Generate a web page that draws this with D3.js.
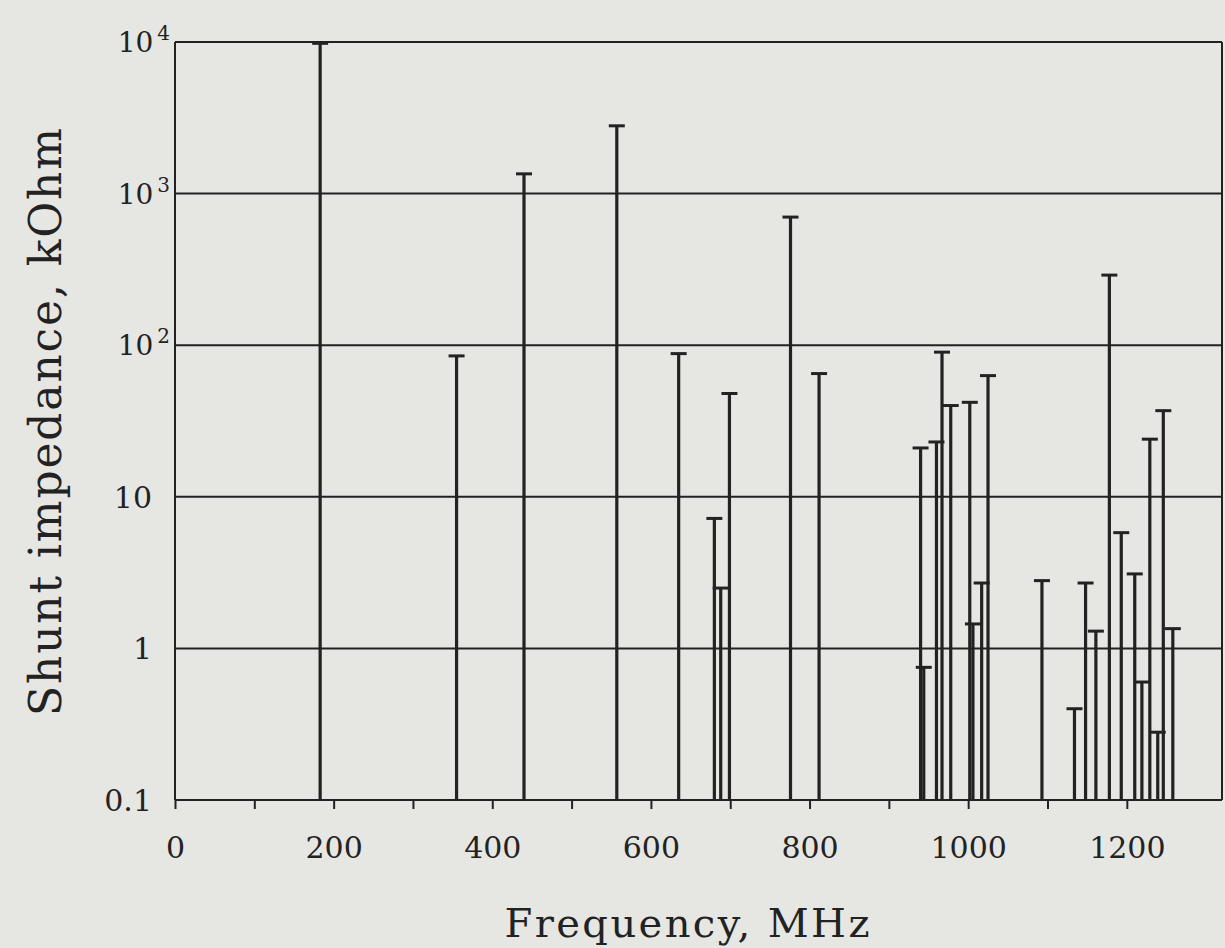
<!DOCTYPE html>
<html>
<head>
<meta charset="utf-8">
<script src="https://cdn.jsdelivr.net/npm/d3@7"></script>
<style>
  body { margin: 0; background: #e6e6e3; }
  svg { display: block; }
  text { font-family: "DejaVu Serif", "Liberation Serif", serif; fill: #222; }
</style>
</head>
<body>
<div id="chart"></div>
<script>
// Resonance frequencies (MHz) and shunt impedances (kOhm)
const freqs = [183, 355, 440, 557, 635, 680, 688, 699, 776, 812,
  940, 944, 960, 967, 978, 1002, 1006, 1017, 1025,
  1093, 1134, 1148, 1161, 1178, 1193, 1210, 1219, 1229, 1239, 1246, 1258];
const impedances = [9800, 85, 1350, 2800, 88, 7.2, 2.5, 48, 700, 65,
  21, 0.75, 23, 90, 40, 42, 1.45, 2.7, 63,
  2.8, 0.4, 2.7, 1.3, 290, 5.8, 3.1, 0.6, 24, 0.28, 37, 1.35];

// Axis ticks
const xTicks = [0, 100, 200, 300, 400, 500, 600, 700, 800, 900, 1000, 1100, 1200];
const xLabels = [0, 200, 400, 600, 800, 1000, 1200];
const yTicks = [0.1, 1, 10, 100, 1000, 10000];

const data = freqs.map((f, i) => ({ freq: f, z: impedances[i] }));

const W = 1225, H = 948;
const margin = { top: 42, right: 3, bottom: 148, left: 175 };
const width = W - margin.left - margin.right;
const height = H - margin.top - margin.bottom;

const svg = d3.select("#chart")
  .append("svg")
  .attr("width", W)
  .attr("height", H);

const g = svg.append("g")
  .attr("transform", `translate(${margin.left}, ${margin.top})`);

const xScale = d3.scaleLinear()
  .domain([0, 1320])
  .range([0, width]);

const yScale = d3.scaleLog()
  .domain([0.1, 10000])
  .range([height, 0]);

const ink = "#222";

// Horizontal gridlines at each decade
g.selectAll(".grid")
  .data(yTicks)
  .enter()
  .append("line")
  .attr("class", "grid")
  .attr("x1", 0)
  .attr("x2", width)
  .attr("y1", d => yScale(d))
  .attr("y2", d => yScale(d))
  .attr("stroke", ink)
  .attr("stroke-width", 2);

// Frame: left and right edges
g.append("line")
  .attr("x1", 0).attr("x2", 0)
  .attr("y1", 0).attr("y2", height)
  .attr("stroke", ink).attr("stroke-width", 2);
g.append("line")
  .attr("x1", width).attr("x2", width)
  .attr("y1", 0).attr("y2", height)
  .attr("stroke", ink).attr("stroke-width", 2);

// x-axis ticks pointing down
const xAxis = d3.axisBottom(xScale)
  .tickValues(xTicks)
  .tickSize(9)
  .tickFormat(d => xLabels.includes(d) ? d : "");

const xg = g.append("g")
  .attr("transform", `translate(0, ${height})`)
  .call(xAxis);
xg.select(".domain").remove();
xg.selectAll(".tick line").attr("stroke", ink).attr("stroke-width", 2);
xg.selectAll(".tick text")
  .attr("y", 37)
  .attr("font-size", 30)
  .attr("font-family", "DejaVu Serif")
  .attr("fill", "#222");

// y-axis labels: powers of ten above 10
const ylab = g.selectAll(".ylab")
  .data(yTicks)
  .enter()
  .append("text")
  .attr("class", "ylab")
  .attr("text-anchor", "end")
  .attr("dy", "0.36em");

ylab.each(function (d) {
  const t = d3.select(this);
  const e = Math.round(Math.log10(d));
  if (e >= 2) {
    t.attr("x", -5).attr("y", yScale(d)).attr("font-size", 28);
    t.append("tspan").text("10");
    t.append("tspan").attr("font-size", 20).attr("dx", 4).attr("dy", "-0.6em").text(e);
  } else {
    t.attr("x", -23).attr("y", yScale(d)).attr("font-size", 30).text(d === 0.1 ? "0.1" : d);
  }
});

// Impedance stems with caps
const bars = g.selectAll(".bar")
  .data(data)
  .enter()
  .append("g")
  .attr("class", "bar");

bars.append("line")
  .attr("x1", d => xScale(d.freq))
  .attr("x2", d => xScale(d.freq))
  .attr("y1", height)
  .attr("y2", d => yScale(d.z))
  .attr("stroke", ink)
  .attr("stroke-width", 3.2);

bars.append("line")
  .attr("x1", d => xScale(d.freq) - 8)
  .attr("x2", d => xScale(d.freq) + 8)
  .attr("y1", d => yScale(d.z))
  .attr("y2", d => yScale(d.z))
  .attr("stroke", ink)
  .attr("stroke-width", 3);

// Axis titles
svg.append("text")
  .attr("x", 687)
  .attr("y", 937)
  .attr("text-anchor", "middle")
  .attr("font-size", 40)
  .attr("textLength", 365)
  .attr("lengthAdjust", "spacing")
  .text("Frequency, MHz");

svg.append("text")
  .attr("transform", "translate(61, 422) rotate(-90)")
  .attr("text-anchor", "middle")
  .attr("font-size", 44)
  .attr("textLength", 588)
  .attr("lengthAdjust", "spacing")
  .text("Shunt impedance, kOhm");
</script>
</body>
</html>
